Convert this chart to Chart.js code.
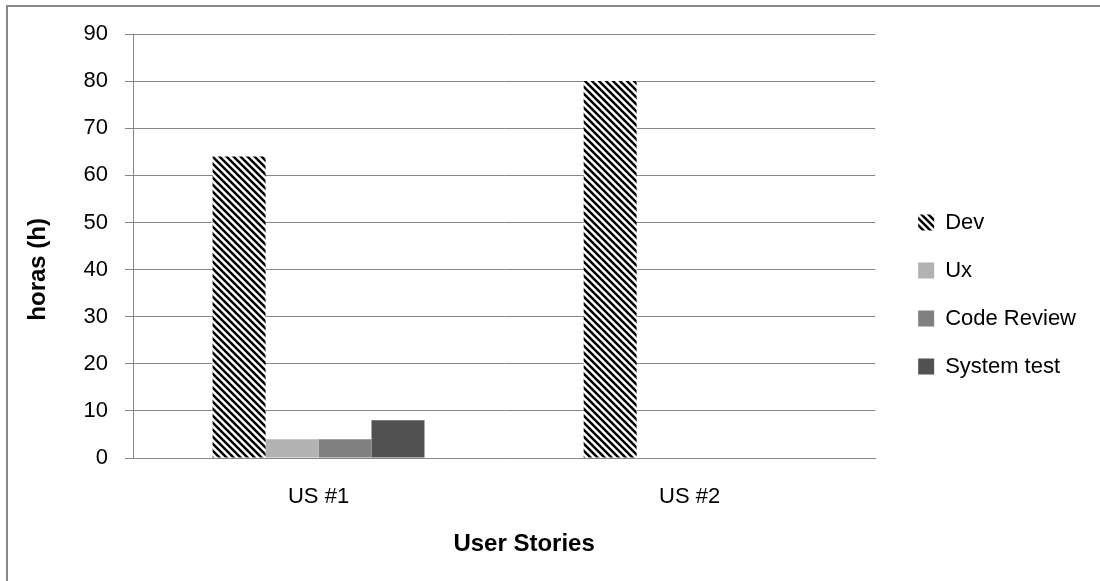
<!DOCTYPE html>
<html>
<head>
<meta charset="utf-8">
<script src="https://cdn.jsdelivr.net/npm/chart.js@4/dist/chart.umd.min.js"></script>
<style>
  body { margin: 0; background: #fff; }
  #wrap { position: relative; width: 1100px; height: 581px; overflow: hidden; }
  #frame { position: absolute; left: 6px; top: 5px; width: 1200px; height: 700px; border: 2px solid #898989; box-sizing: border-box; }
  #myChart { position: absolute; left: 0; top: 0; }
</style>
</head>
<body>
<div id="wrap">
  <div id="frame"></div>
  <canvas id="myChart" width="1100" height="581"></canvas>
</div>
<script>
var categories = ['US #1', 'US #2'];
var seriesNames = ['Dev', 'Ux', 'Code Review', 'System test'];
var devHours = [64, 80];
var uxHours = [4, 0];
var codeReviewHours = [4, 0];
var systemTestHours = [8, 0];
var yTicks = [0, 10, 20, 30, 40, 50, 60, 70, 80, 90];

// diagonal stripes for Dev
function stripes() {
  var c = document.createElement('canvas');
  c.width = 7; c.height = 7;
  var g = c.getContext('2d');
  g.fillStyle = '#fff';
  g.fillRect(0, 0, 7, 7);
  g.strokeStyle = '#000';
  g.lineWidth = 2.5;
  for (var o = -7; o <= 7; o += 7) {
    g.beginPath();
    g.moveTo(o - 1, -1);
    g.lineTo(o + 8, 8);
    g.stroke();
  }
  return g.createPattern(c, 'repeat');
}

var ctx = document.getElementById("myChart").getContext('2d');
var fills = [stripes(), '#b2b2b2', '#808080', '#515151'];
var values = [devHours, uxHours, codeReviewHours, systemTestHours];
var datasets = [];
for (var i = 0; i < seriesNames.length; i++) {
  datasets.push({
    label: seriesNames[i],
    data: values[i],
    backgroundColor: fills[i],
    borderWidth: 0,
    categoryPercentage: 0.571,
    barPercentage: 1.0
  });
}

var font = "'Liberation Sans', sans-serif";
var gridColor = '#868686';
var nb6 = '\u00a0\u00a0\u00a0\u00a0\u00a0\u00a0';
var nb7 = nb6 + '\u00a0';

// empty axes used only as spacers
function spacer(pos, size) {
  return {
    position: pos, display: true,
    grid: { display: false }, border: { display: false }, ticks: { display: false },
    afterFit: function (axis) {
      if (axis.isHorizontal()) axis.height = size; else axis.width = size;
    }
  };
}

var myChart = new Chart(ctx, {
  type: 'bar',
  data: { labels: categories, datasets: datasets },
  options: {
    responsive: false,
    animation: false,
    layout: { padding: { left: 8, top: 10, right: 14, bottom: 2 } },
    plugins: {
      tooltip: { enabled: false },
      legend: {
        position: 'right',
        maxWidth: 208,
        labels: {
          boxWidth: 16, boxHeight: 16, padding: 26,
          color: '#000',
          font: { family: font, size: 22 }
        }
      }
    },
    scales: {
      x: {
        grid: { display: false },
        border: { display: true, color: gridColor, width: 1 },
        ticks: { color: '#000', font: { family: font, size: 22 }, padding: 18 },
        title: { display: true, text: nb6 + 'User Stories', color: '#000',
                 font: { family: font, size: 24, weight: 'bold' }, padding: { top: 0, bottom: 20 } },
        afterFit: function (axis) { axis.height = 121; }
      },
      y: {
        min: 0, max: 90,
        afterBuildTicks: function (axis) { axis.ticks = yTicks.map(function (v) { return { value: v }; }); },
        grid: { color: gridColor, lineWidth: 1, tickLength: 8 },
        border: { display: true, color: gridColor, width: 1 },
        ticks: { color: '#000', font: { family: font, size: 22 }, padding: 17 },
        title: { display: true, text: 'horas (h)' + nb7, color: '#000',
                 font: { family: font, size: 24, weight: 'bold' }, padding: { top: 16, bottom: 0 } },
        afterFit: function (axis) { axis.width = 125; }
      },
      topGap: spacer('top', 24),
      rightGap: spacer('right', 17)
    }
  }
});
</script>
</body>
</html>
